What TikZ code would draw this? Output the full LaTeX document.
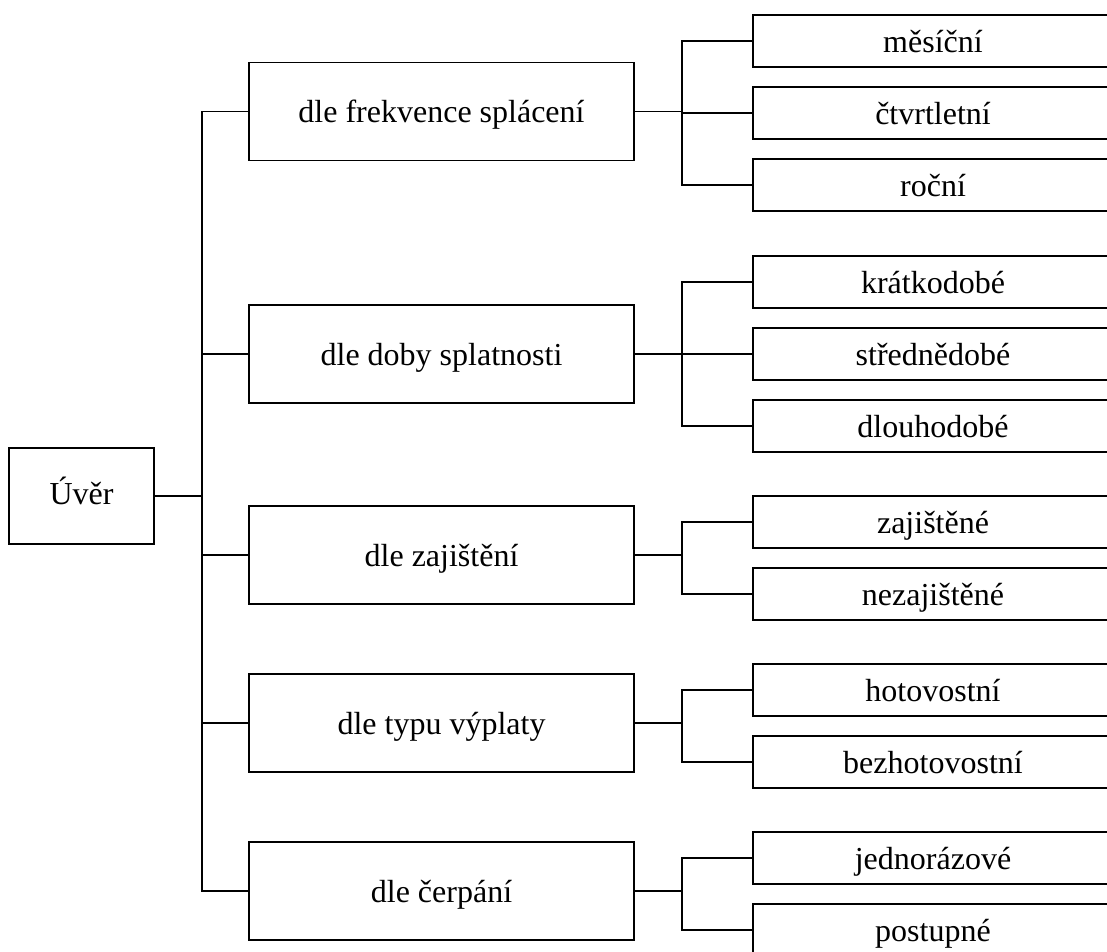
\documentclass[tikz,border=0pt]{standalone}
\usepackage{fontspec}
\setmainfont{Liberation Serif}
\begin{document}
\begin{tikzpicture}[x=1pt,y=-1pt,
  every node/.style={font=\fontsize{32}{38}\selectfont},
  box/.style={draw=black, line width=1.8pt, inner sep=0pt, text height=22pt, text depth=0pt, anchor=center},
  rootbox/.style={box, minimum width=145pt, minimum height=96pt},
  catbox/.style={box, minimum width=385pt, minimum height=98pt},
  leafbox/.style={box, minimum width=360pt, minimum height=52pt},
  conn/.style={line width=1.8pt, line cap=rect}
]
\useasboundingbox (0,0) rectangle (1107,951);
\fill[white] (0,0) rectangle (1107,951);

% root
\node[rootbox, text height=16pt] (root) at (81.5,496) {Úvěr};

% categories
\node[catbox] (c1) at (441.5,111.5) {dle frekvence splácení};
\node[catbox] (c2) at (441.5,354) {dle doby splatnosti};
\node[catbox] (c3) at (441.5,555) {dle zajištění};
\node[catbox] (c4) at (441.5,723) {dle typu výplaty};
\node[catbox] (c5) at (441.5,891) {dle čerpání};

% leaves
\node[leafbox] (c1a) at (933,41) {měsíční};
\node[leafbox] (c1b) at (933,113) {čtvrtletní};
\node[leafbox] (c1c) at (933,185) {roční};
\node[leafbox] (c2a) at (933,282) {krátkodobé};
\node[leafbox] (c2b) at (933,354) {střednědobé};
\node[leafbox] (c2c) at (933,426) {dlouhodobé};
\node[leafbox] (c3a) at (933,522) {zajištěné};
\node[leafbox] (c3b) at (933,594) {nezajištěné};
\node[leafbox] (c4a) at (933,690) {hotovostní};
\node[leafbox] (c4b) at (933,762) {bezhotovostní};
\node[leafbox] (c5a) at (933,858) {jednorázové};
\node[leafbox] (c5b) at (933,930) {postupné};

% trunk
\coordinate (tx) at (202,0);
\draw[conn] (c1.west -| tx) -- (c5.west -| tx);
\draw[conn] (root.east) -- (root.east -| tx);
\foreach \c in {c1,c2,c3,c4,c5}{
  \draw[conn] (\c.west) -- (\c.west -| tx);
}

% brackets
\coordinate (bx) at (682,0);
\foreach \c in {c1,c2}{
  \draw[conn] (\c.east) -- (\c.east -| bx);
  \draw[conn] (\c a.west) -| (bx |- \c c.west) -- (\c c.west);
  \draw[conn] (\c b.west) -- (\c b.west -| bx);
}
\foreach \c in {c3,c4,c5}{
  \draw[conn] (\c.east) -- (\c.east -| bx);
  \draw[conn] (\c a.west) -| (bx |- \c b.west) -- (\c b.west);
}
\end{tikzpicture}
\end{document}
